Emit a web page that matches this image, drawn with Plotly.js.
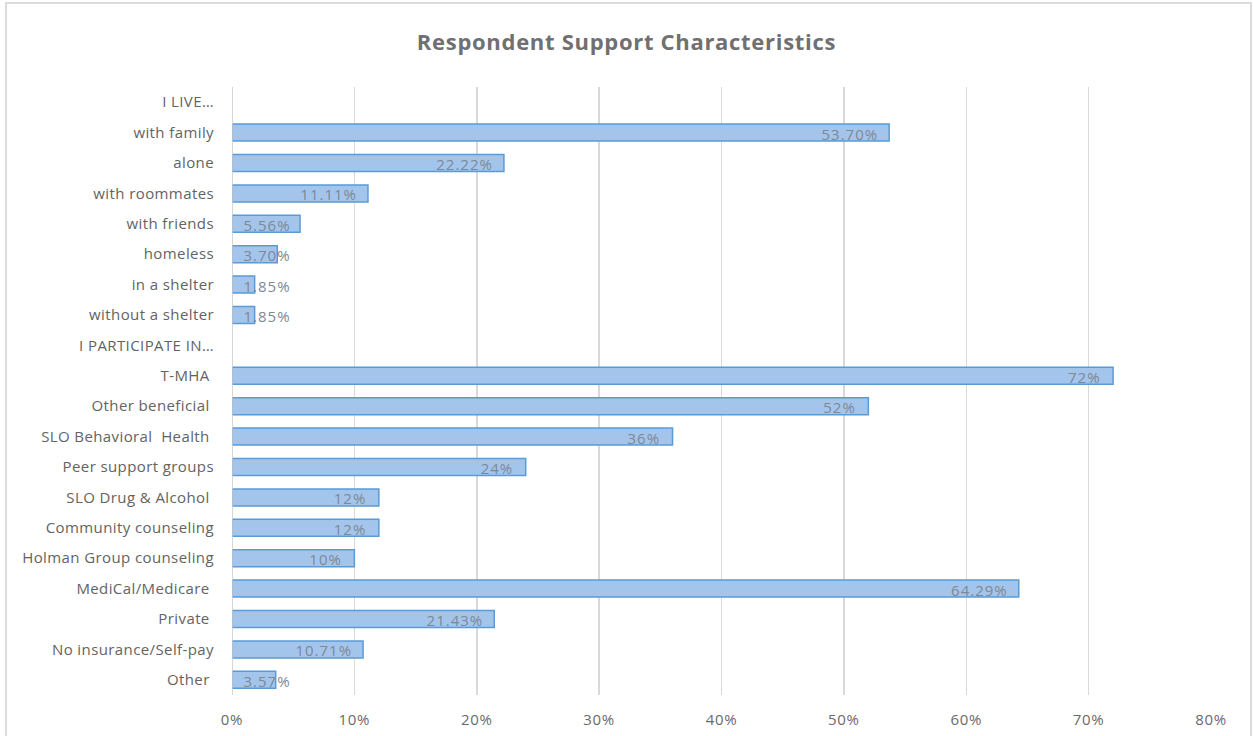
<!DOCTYPE html>
<html>
<head>
<meta charset="utf-8">
<script src="https://cdn.plot.ly/plotly-3.0.1.min.js"></script>
<style>
  html, body { margin: 0; padding: 0; background: #ffffff; }
  #wrap { position: relative; width: 1253px; height: 736px; overflow: hidden; }
  #chart { position: absolute; left: 0; top: 0; width: 1253px; height: 736px; }
  #frame { position: absolute; left: 5px; top: 2px; width: 1243px; height: 800px;
           border: 2px solid #dcdcdc; border-bottom: none; pointer-events: none; }
  /* slightly airy lettering for axis and value labels */
  #chart .ytick text { letter-spacing: 0.4px; }
  #chart .xtick text { letter-spacing: 0.7px; }
  #chart text.bartext { letter-spacing: 1px; }
  #chart .gtitle { letter-spacing: 0.7px; }
  /* extra inner padding for value labels */
  #chart .barlayer .trace:nth-child(1) text.bartext { translate: -11px 1px; }
  #chart .barlayer .trace:nth-child(2) text.bartext { translate: 11px 1px; }
</style>
</head>
<body>
<div id="wrap">
  <div id="chart"></div>
  <div id="frame"></div>
</div>
<script>
// Survey categories, top to bottom (section headings carry no value)
const categories = [
  'I LIVE…', 'with family', 'alone', 'with roommates', 'with friends', 'homeless',
  'in a shelter', 'without a shelter', 'I PARTICIPATE IN…', 'T-MHA ', 'Other beneficial ',
  'SLO Behavioral  Health ', 'Peer support groups', 'SLO Drug & Alcohol ', 'Community counseling',
  'Holman Group counseling', 'MediCal/Medicare ', 'Private ', 'No insurance/Self-pay', 'Other '
];

// Share of respondents (percent)
const values = [
  null, 53.70, 22.22, 11.11, 5.56, 3.70, 1.85, 1.85,
  null, 72, 52, 36, 24, 12, 12, 10, 64.29, 21.43, 10.71, 3.57
];

// Printed value labels
const valueLabels = [
  '', '53.70%', '22.22%', '11.11%', '5.56%', '3.70%', '1.85%', '1.85%',
  '', '72%', '52%', '36%', '24%', '12%', '12%', '10%', '64.29%', '21.43%', '10.71%', '3.57%'
];

// Horizontal axis ticks
const tickValues = [0, 10, 20, 30, 40, 50, 60, 70, 80];
const tickLabels = ['0%', '10%', '20%', '30%', '40%', '50%', '60%', '70%', '80%'];

const font = 'Open Sans, Lato, sans-serif';

// Long bars carry their label at the inner end; short bars (label wider than the bar)
// start the label near the bar's base and let it run past the end.
const SHORT = 6;
const isShort = v => v !== null && v < SHORT;
const longX = values.map(v => (v !== null && !isShort(v)) ? v : null);
const shortX = values.map(v => isShort(v) ? v : null);
const longText = valueLabels.map((t, i) => longX[i] !== null ? t : '');
const shortText = valueLabels.map((t, i) => shortX[i] !== null ? t : '');

const barStyle = {
  color: '#a3c5ec',
  line: { color: '#5b9bd5', width: 1.5 }
};
const labelFont = { family: font, size: 15, color: '#7d8895' };

const longBars = {
  type: 'bar', orientation: 'h',
  y: categories, x: longX, text: longText,
  textposition: 'inside', insidetextanchor: 'end', constraintext: 'none',
  textfont: labelFont, marker: barStyle,
  hoverinfo: 'y+x', cliponaxis: false
};

const shortBars = {
  type: 'bar', orientation: 'h',
  y: categories, x: shortX, text: shortText,
  textposition: 'inside', insidetextanchor: 'start', constraintext: 'none',
  textfont: labelFont, marker: barStyle,
  hoverinfo: 'y+x', cliponaxis: false
};

const layout = {
  width: 1253,
  height: 736,
  paper_bgcolor: 'rgba(0,0,0,0)',
  plot_bgcolor: '#ffffff',
  margin: { l: 232, r: 42, t: 87, b: 41 },
  showlegend: false,
  barmode: 'overlay',
  bargap: 0.44,
  uniformtext: { mode: 'show', minsize: 15 },
  title: {
    text: '<b>Respondent Support Characteristics</b>',
    x: 0.5, xanchor: 'center',
    y: 0.943, yanchor: 'middle',
    font: { family: font, size: 22, color: '#707070' }
  },
  xaxis: {
    range: [0, 80],
    tickvals: tickValues,
    ticktext: tickLabels,
    showgrid: true,
    gridcolor: '#d9d9d9',
    gridwidth: 1.5,
    zeroline: false,
    showline: false,
    ticks: 'outside',
    ticklen: 11,
    tickcolor: 'rgba(0,0,0,0)',
    tickfont: { family: font, size: 15, color: '#6a6a6a' },
    fixedrange: true
  },
  yaxis: {
    type: 'category',
    autorange: 'reversed',
    showgrid: false,
    zeroline: false,
    showline: false,
    ticks: 'outside',
    ticklen: 14,
    tickcolor: 'rgba(0,0,0,0)',
    tickfont: { family: font, size: 15, color: '#636363' },
    fixedrange: true
  },
  shapes: [
    // value axis baseline at 0%
    { type: 'line', xref: 'x', yref: 'paper', x0: 0, x1: 0, y0: 0, y1: 1,
      line: { color: '#c8c8c8', width: 1.5 } }
  ]
};

Plotly.newPlot('chart', [longBars, shortBars], layout, { displayModeBar: false, staticPlot: true });
</script>
</body>
</html>
